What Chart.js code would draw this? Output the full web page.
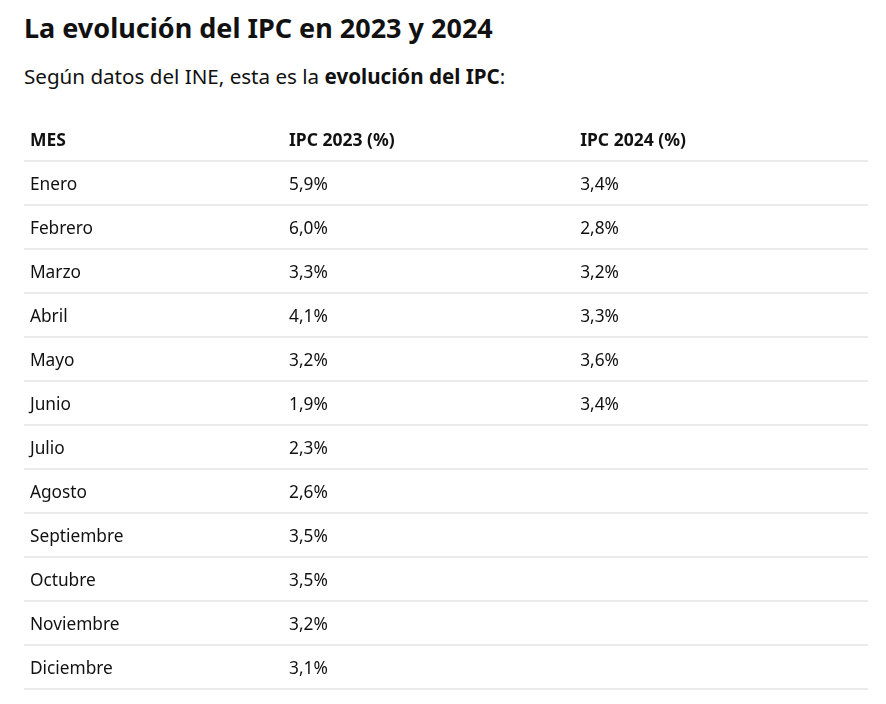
<!DOCTYPE html>
<html lang="es">
<head>
<meta charset="utf-8">
<title>La evolución del IPC en 2023 y 2024</title>
<script src="https://cdn.jsdelivr.net/npm/chart.js@4.4.1/dist/chart.umd.min.js"></script>
<style>
    html, body {
        margin: 0;
        padding: 0;
        background: #fff;
        font-family: 'Noto Sans', sans-serif;
        color: #111;
    }
    .wrap {
        position: relative;
        width: 886px;
        height: 704px;
        overflow: hidden;
    }
    h1 {
        position: absolute;
        left: 24px;
        top: 9px;
        margin: 0;
        font-size: 27px;
        font-weight: 700;
        line-height: 38px;
    }
    p.sub {
        position: absolute;
        left: 24px;
        top: 61px;
        margin: 0;
        font-size: 20.6px;
        line-height: 30px;
        font-weight: 400;
    }
    .table_box {
        position: absolute;
        left: 24px;
        top: 117px;
        width: 844px;
        height: 576px;
    }
</style>
</head>
<body>
<div class="wrap">
    <h1>La evolución del IPC en 2023 y 2024</h1>
    <p class="sub">Según datos del INE, esta es la <b>evolución del IPC</b>:</p>
    <div class="table_box"><canvas id="myChart"></canvas></div>
</div>
<script>
'use strict';
//Data
const columnas = ['MES', 'IPC 2023 (%)', 'IPC 2024 (%)'];
const meses = [
    'Enero', 'Febrero', 'Marzo', 'Abril', 'Mayo', 'Junio',
    'Julio', 'Agosto', 'Septiembre', 'Octubre', 'Noviembre', 'Diciembre',
];
const ipc2023 = [5.9, 6.0, 3.3, 4.1, 3.2, 1.9, 2.3, 2.6, 3.5, 3.5, 3.2, 3.1];
const ipc2024 = [3.4, 2.8, 3.2, 3.3, 3.6, 3.4, null, null, null, null, null, null];

//Layout (column start on a 0-100 scale of the table width)
const colStart = [0.7, 31.4, 65.9];
const textColor = '#111';
const lineColor = '#ebebeb';
const fontFamily = "'Noto Sans', sans-serif";
const textShift = 2;

const fmt = (v) => v.toFixed(1).replace('.', ',') + '%';
const filas = [columnas[0]].concat(meses);

const toPoints = (values, col) =>
    values
        .map((v, i) => (v === null ? null : { x: colStart[col], y: meses[i], v: v }))
        .filter((p) => p !== null);

//Draw the table: row lines, headers, month names and values
const tablePlugin = {
    id: 'tablePlugin',
    afterDatasetsDraw(chart) {
        const ctx = chart.ctx;
        const xs = chart.scales.x;
        const ys = chart.scales.y;
        const area = chart.chartArea;
        const step = ys.getPixelForValue(1) - ys.getPixelForValue(0);
        ctx.save();
        //row separators
        ctx.strokeStyle = lineColor;
        ctx.lineWidth = 2;
        filas.forEach((f, i) => {
            const y = Math.round(ys.getPixelForValue(i) + step / 2);
            ctx.beginPath();
            ctx.moveTo(area.left, y);
            ctx.lineTo(area.right, y);
            ctx.stroke();
        });
        ctx.fillStyle = textColor;
        ctx.textBaseline = 'middle';
        ctx.textAlign = 'left';
        //header
        ctx.font = 'bold 17.5px ' + fontFamily;
        columnas.forEach((c, i) => {
            ctx.fillText(c, xs.getPixelForValue(colStart[i]), ys.getPixelForValue(0) + textShift);
        });
        //month names
        ctx.font = '17.3px ' + fontFamily;
        meses.forEach((m) => {
            ctx.fillText(m, xs.getPixelForValue(colStart[0]), ys.getPixelForValue(m) + textShift);
        });
        //values
        chart.data.datasets.forEach((ds, di) => {
            const meta = chart.getDatasetMeta(di);
            meta.data.forEach((el, i) => {
                ctx.fillText(fmt(ds.data[i].v), el.x, el.y + textShift);
            });
        });
        ctx.restore();
    },
};

const config = {
    type: 'scatter',
    data: {
        datasets: [
            { label: columnas[1], data: toPoints(ipc2023, 1), pointRadius: 0 },
            { label: columnas[2], data: toPoints(ipc2024, 2), pointRadius: 0 },
        ],
    },
    options: {
        responsive: true,
        maintainAspectRatio: false,
        animation: false,
        events: [],
        layout: { padding: { top: 0, bottom: 4, left: 0, right: 0 } },
        scales: {
            x: { type: 'linear', min: 0, max: 100, display: false },
            y: {
                type: 'category',
                labels: filas,
                offset: true,
                display: false,
            },
        },
        plugins: {
            legend: { display: false },
            tooltip: { enabled: false },
        },
    },
    plugins: [tablePlugin],
};
const myChart = new Chart(document.getElementById('myChart'), config);
</script>
</body>
</html>
